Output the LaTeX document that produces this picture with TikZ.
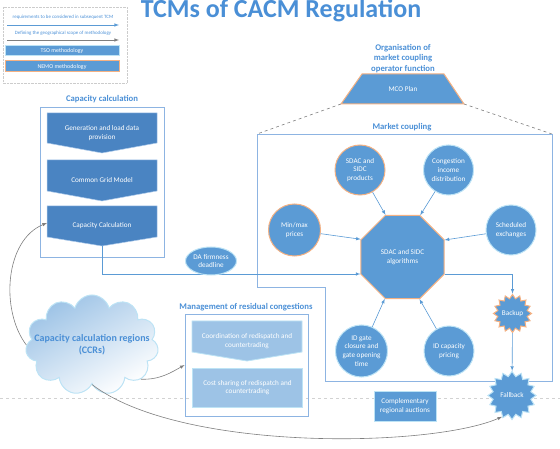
\documentclass[tikz,border=0pt]{standalone}
\usepackage{fontspec}
\setmainfont{Carlito}
\usepackage{tikz}
\usetikzlibrary{arrows,positioning,shapes.geometric,shapes.symbols}
\definecolor{mainblue}{HTML}{5B9BD5}
\definecolor{darkblue}{HTML}{4A84C2}
\definecolor{lightblue}{HTML}{9DC3E6}
\definecolor{titleblue}{HTML}{4A8FD6}
\definecolor{framecol}{HTML}{8DB4E2}
\definecolor{nemoorange}{HTML}{F4B183}
\definecolor{tsocyan}{HTML}{BDE3F5}
\definecolor{greyline}{HTML}{7F7F7F}

\begin{document}
\begin{tikzpicture}
[x=1pt,y=-1pt,
heading/.style={text=titleblue,font=\bfseries\fontsize{8.7}{10.5}\selectfont,align=center},
intext/.style={text=white,font=\fontsize{7.2}{8.6}\selectfont,align=center},
legendtext/.style={text=titleblue,font=\fontsize{4.9}{6}\selectfont},
tso/.style={fill=mainblue,draw=tsocyan,line width=1pt},
nemo/.style={fill=mainblue,draw=nemoorange,line width=1pt},
topic/.style={circle,minimum size=50pt,inner sep=0pt,intext},
chev/.style={fill=darkblue,draw=framecol!70,line width=0.5pt},
lightchev/.style={fill=lightblue,draw=tsocyan,line width=0.8pt},
boxline/.style={draw=framecol,line width=0.8pt},
link/.style={-latex,draw=mainblue,line width=0.6pt},
geoline/.style={-latex,draw=greyline,line width=0.6pt}]
\useasboundingbox (0,0) rectangle (560,449);

\draw[dashed,gray!35,line width=0.5pt] (0,398) -- (560,398);

\draw[densely dotted,gray!40] (3,7) rectangle (127,83);
\node[legendtext] (req) at (63,17) {requirements to be considered in subsequent TCM};
\coordinate (reqa) at (7,25);
\coordinate (reqb) at (119,25);
\draw[link] (reqa) -- (reqb);
\node[legendtext] (geo) at (63,33) {Defining the geographical scope of methodology};
\coordinate (geoa) at (7,40);
\coordinate (geob) at (119,40);
\draw[geoline] (geoa) -- (geob);
\node[tso,minimum width=114pt,minimum height=10pt,inner sep=0pt,text=white,font=\fontsize{5.9}{7}\selectfont] (tsoleg) at (62,51) {TSO methodology};
\node[nemo,minimum width=114pt,minimum height=11pt,inner sep=0pt,text=white,font=\fontsize{5.9}{7}\selectfont] (nemoleg) at (62,66.5) {NEMO methodology};

\node[anchor=base,text=titleblue,font=\bfseries\fontsize{26}{30}\selectfont] (main) at (281,18) {TCMs of CACM Regulation};

\node[heading] (cchead) at (102,99) {Capacity calculation};
\node[boxline,minimum width=124pt,minimum height=150pt] (ccbox) at (102,182) {};
\path[chev] (47,113) -- (157,113) -- (157,143) -- (102,153) -- (47,143) -- cycle;
\path[chev] (47,160) -- (157,160) -- (157,191) -- (102,201) -- (47,191) -- cycle;
\path[chev] (47,206) -- (157,206) -- (157,237) -- (102,246) -- (47,237) -- cycle;
\node[intext] (gen) at (102,133) {Generation and load data\\provision};
\node[intext] (cgm) at (102,180) {Common Grid Model};
\node[intext] (ccalc) at (102,226) {Capacity Calculation};
\coordinate (ccalctip) at (102,246);
\coordinate (ccalcw) at (47,223);

\node[heading] (mcohead) at (403,58.5) {Organisation of\\market coupling\\operator function};
\path[nemo] (341,104) -- (362,74) -- (444,74) -- (464,104) -- cycle;
\node[intext] (mco) at (403,89) {MCO Plan};
\coordinate (mcol) at (341,104);
\coordinate (mcor) at (464,104);
\coordinate (mctl) at (257,134);
\coordinate (mctr) at (552,134);
\draw[dashed,greyline,line width=0.6pt] (mcol) -- (mctl);
\draw[dashed,greyline,line width=0.6pt] (mcor) -- (mctr);

\node[heading] (mchead) at (402,127) {Market coupling};
\draw[boxline] (mctl) -- (mctr) -- (552,381) -- (325,381) -- (325,287) -- (257,287) -- cycle;

\node[regular polygon,regular polygon sides=8,minimum size=90pt,inner sep=0pt,nemo,intext] (algo) at (402.5,257) {SDAC and SIDC\\algorithms};

\node[topic,nemo] (prod) at (360,170) {SDAC and\\SIDC\\products};
\node[topic,tso] (cid) at (448.5,170) {Congestion\\income\\distribution};
\node[topic,nemo,minimum size=52pt] (minmax) at (294.5,230) {Min/max\\prices};
\node[topic,tso] (sched) at (511,230) {Scheduled\\exchanges};
\node[topic,tso,minimum size=52pt] (idgate) at (361.5,351) {ID gate\\closure and\\gate opening\\time};
\node[topic,tso] (idcap) at (449,351) {ID capacity\\pricing};

\draw[link] (prod) -- (algo.112.5);
\draw[link] (cid) -- (algo.67.5);
\draw[link] (minmax) -- (algo.157.5);
\draw[link] (sched) -- (algo.22.5);
\draw[link] (idgate) -- (algo.247.5);
\draw[link] (idcap) -- (algo.292.5);

\draw[link] (ccalctip) |- (algo.202.5);
\node[ellipse,minimum width=51pt,minimum height=28pt,inner sep=0pt,tso,intext] (dafirm) at (211,261) {DA firmness\\deadline};

\node[star,star points=16,star point ratio=1.27,minimum size=38pt,inner sep=0pt,nemo,intext] (backup) at (512.5,313.5) {Backup};
\node[star,star points=16,star point ratio=1.25,minimum size=48pt,inner sep=0pt,tso,intext] (fallback) at (512,395.5) {Fallback};
\draw[link] (algo.-22.5) -| (backup);
\draw[link] (backup) -- (fallback);

\node[tso,intext,minimum width=62pt,minimum height=30pt,inner sep=0pt] (cra) at (405,406) {Complementary\\regional auctions};

\node[heading] (mrchead) at (246,307) {Management of residual congestions};
\node[boxline,minimum width=123pt,minimum height=102pt] (mrc) at (246.5,365) {};
\path[lightchev] (192,321) -- (302,321) -- (302,352) -- (247,361) -- (192,352) -- cycle;
\node[intext] (coord) at (247,341) {Coordination of redispatch and\\countertrading};
\node[lightchev,intext,minimum width=110pt,minimum height=39pt,inner sep=0pt] (cost) at (247.5,387.5) {Cost sharing of redispatch and\\countertrading};

\node[cloud,cloud puffs=11,aspect=1.33,minimum width=133pt,minimum height=100pt,inner sep=0pt,draw=tsocyan,line width=1pt,top color=lightblue,bottom color=white,shading angle=30] (ccr) at (92,345) {};
\node[text=titleblue,font=\bfseries\fontsize{10}{12}\selectfont,align=center] (ccrtext) at (92,345) {Capacity calculation regions\\(CCRs)};

\draw[geoline] (ccr.west) .. controls (0,310) and (5,240) .. (ccalcw);
\draw[geoline] (ccr.-35) .. controls (160,380) and (172,372) .. (mrc.west);
\draw[geoline] (ccr.south) .. controls (180,452) and (430,448) .. (fallback.245);
\end{tikzpicture}
\end{document}
